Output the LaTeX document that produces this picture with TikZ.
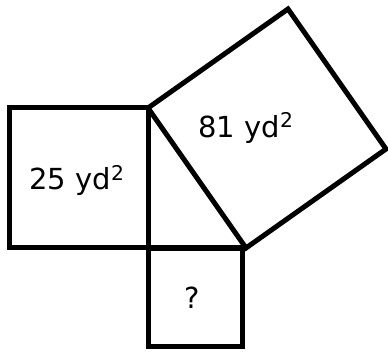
\documentclass[tikz,border=0pt]{standalone}
\usepackage{fontspec}
\setmainfont{DejaVu Sans}
\usetikzlibrary{calc}
\tikzset{
 side/.style={draw,line width=5pt,line join=miter},
 area/.style={font=\fontsize{29}{32}\selectfont,inner sep=0pt}
}
\begin{document}
\begin{tikzpicture}[x=1pt,y=-1pt]
\useasboundingbox (0,0) rectangle (388,352);
\coordinate (top) at (148,108);
\coordinate (corner) at (148,248);
\coordinate (right) at (246,248);
\coordinate (hypa) at ($(top)+(140,-99)$);
\coordinate (hypb) at ($(right)+(140,-99)$);
\draw[side] (9,108) rectangle (corner);
\draw[side] (148,249) rectangle (242,347);
\draw[side] (top)--(hypa)--(hypb)--(right)--cycle;
\draw[side] (corner)--(right);
\node[area] (small) at (77,180) {25 yd\textsuperscript{2}};
\node[area] (big) at (246,128) {81 yd\textsuperscript{2}};
\node[area] (unknown) at (192,298) {?};
\end{tikzpicture}
\end{document}
